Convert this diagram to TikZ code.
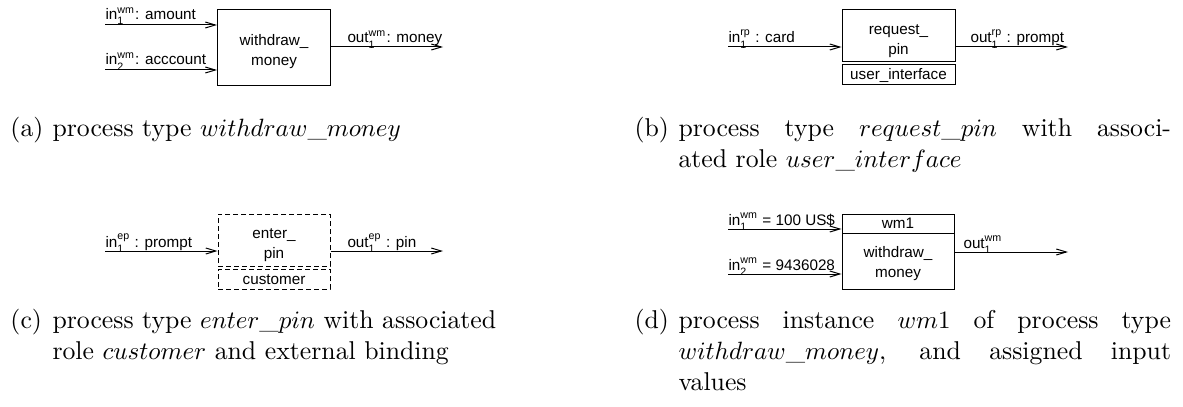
\documentclass[tikz,border=0pt]{standalone}
\usepackage{amsmath}
\usepackage{fontspec}
\setsansfont{Liberation Sans}
\usetikzlibrary{arrows.meta, positioning}

% port label: name, index, process tag
\newcommand{\portlbl}[3]{#1$^{\text{#3}}_{\text{#2}}$}

\tikzset{
  procbox/.style={draw, thin, minimum width=45.2pt, inner sep=0pt,
    font=\sffamily\fontsize{6.1}{8}\selectfont},
  boxtext/.style={align=center, inner sep=0pt, font=\sffamily\fontsize{6.1}{8}\selectfont},
  lbl/.style={anchor=base west, inner sep=0pt, font=\sffamily\fontsize{6.1}{8}\selectfont},
  flow/.style={thin, -{Straight Barb[length=4pt,width=2.4pt]}},
  ext/.style={dash pattern=on 2pt off 1.2pt},
  captag/.style={anchor=base west, inner sep=0pt, font=\fontsize{10.3}{12.4}\selectfont},
  capbody/.style={captag, text width=197pt, align=justify}
}

\begin{document}
\begin{tikzpicture}[x=0.4pt, y=-0.4pt]
    \useasboundingbox (0,0) rectangle (1183,406);

    % (a) process type withdraw_money
    \node[procbox, minimum height=30pt] (wmbox) at (274,47.5) {};
    \node[boxtext] (wmtext) at (274,52) {withdraw\_\\money};
    \coordinate (wmin1) at (105,25);
    \coordinate (wmin2) at (105,70);
    \coordinate (wmout) at (443,47);
    \draw[flow] (wmin1) -- (wmin1 -| wmbox.west);
    \draw[flow] (wmin2) -- (wmin2 -| wmbox.west);
    \draw[flow] (wmbox.east |- wmout) -- (wmout);
    \node[lbl] (wmin1lbl) at (105,20) {\portlbl{in}{1}{wm}: amount};
    \node[lbl] (wmin2lbl) at (105,65) {\portlbl{in}{2}{wm}: acccount};
    \node[lbl] (wmoutlbl) at (347,43) {\portlbl{out}{1}{wm}: money};

    % (b) process type request_pin, role user_interface
    \node[procbox, minimum height=20.8pt] (rpbox) at (898.5,36) {};
    \node[boxtext] (rptext) at (898.5,41) {request\_\\pin};
    \node[procbox, minimum height=8pt] (rprole) at (898.5,75) {user\_interface};
    \coordinate (rpin) at (728,47);
    \coordinate (rpout) at (1068,47);
    \draw[flow] (rpin) -- (rpin -| rpbox.west);
    \draw[flow] (rpbox.east |- rpout) -- (rpout);
    \node[lbl] (rpinlbl) at (728,43) {\portlbl{in}{1}{rp} : card};
    \node[lbl] (rpoutlbl) at (970,43) {\portlbl{out}{1}{rp} : prompt};

    % (c) process type enter_pin, role customer, external binding
    \node[procbox, ext, minimum width=44.8pt, minimum height=20.8pt] (epbox) at (274,240) {};
    \node[boxtext] (eptext) at (274,245) {enter\_\\pin};
    \node[procbox, ext, minimum width=44.8pt, minimum height=7.8pt] (eprole) at (274,279.5) {customer};
    \coordinate (epin) at (105,251);
    \coordinate (epout) at (443,251);
    \draw[flow] (epin) -- (epin -| epbox.west);
    \draw[flow] (epbox.east |- epout) -- (epout);
    \node[lbl] (epinlbl) at (105,247) {\portlbl{in}{1}{ep} : prompt};
    \node[lbl] (epoutlbl) at (347,247) {\portlbl{out}{1}{ep} : pin};

    % (d) process instance wm1 with input values
    \node[procbox, minimum width=44.8pt, minimum height=7.6pt] (wminame) at (898,223.5) {wm1};
    \node[procbox, minimum width=44.8pt, minimum height=22.4pt] (wmibox) at (898,261) {};
    \node[boxtext] (wmitext) at (898,264) {withdraw\_\\money};
    \coordinate (wmiin1) at (728,229);
    \coordinate (wmiin2) at (728,274);
    \coordinate (wmiout) at (1068,252);
    \draw[flow] (wmiin1) -- (wmiin1 -| wminame.west);
    \draw[flow] (wmiin2) -- (wmiin2 -| wmibox.west);
    \draw[flow] (wmibox.east |- wmiout) -- (wmiout);
    \node[lbl] (wmiin1lbl) at (728,225) {\portlbl{in}{1}{wm} = 100 US\$};
    \node[lbl] (wmiin2lbl) at (728,270) {\portlbl{in}{2}{wm} = 9436028};
    \node[lbl] (wmioutlbl) at (963,248) {\portlbl{out}{1}{wm}};

    % captions
    \node[captag] (capa) at (10,136) {(a)};
    \node[captag] (capatext) at (52,136) {process type $withdraw\_money$};
    \node[captag] (capb) at (634,136) {(b)};
    \node[capbody] (capbtext) at (678,136) {process type $request\_pin$ with associ-\linebreak ated role $user\_interface$};
    \node[captag] (capc) at (10,328) {(c)};
    \node[capbody, align=left] (capctext) at (52,328) {process type $enter\_pin$ with associated\\role $customer$ and external binding};
    \node[captag] (capd) at (634,328) {(d)};
    \node[capbody] (capdtext) at (678,328) {process instance $wm1$ of process type\linebreak $withdraw\_money$, and assigned input\linebreak values};
\end{tikzpicture}
\end{document}
